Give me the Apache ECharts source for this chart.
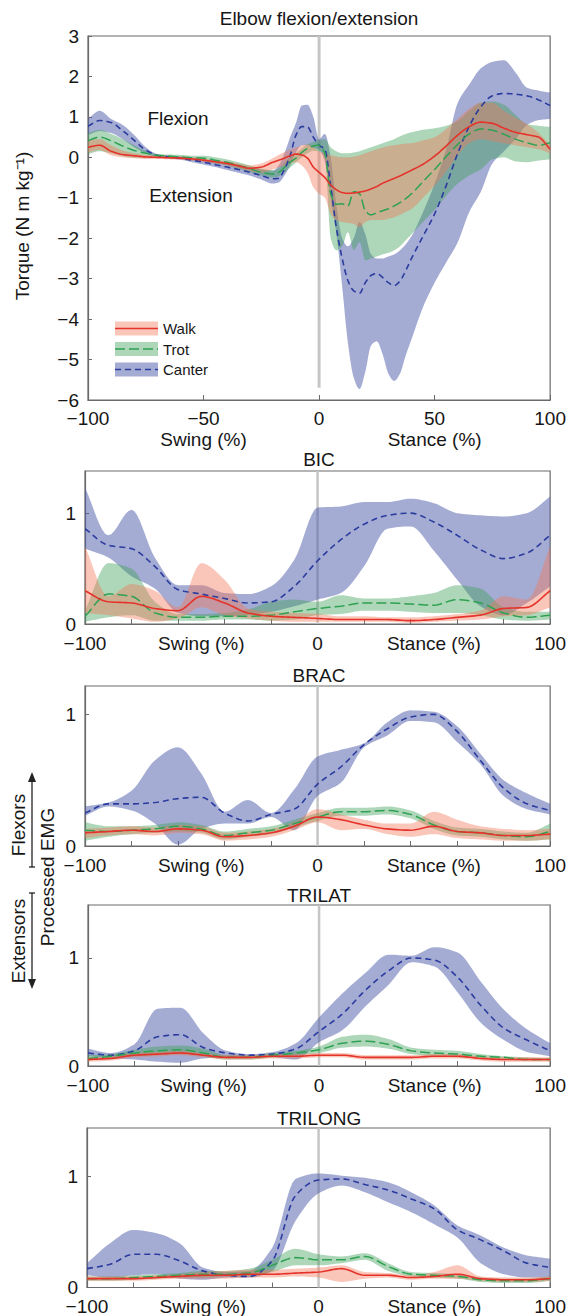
<!DOCTYPE html>
<html>
<head>
<meta charset="utf-8">
<title>Elbow torque and EMG</title>
<script src="https://cdn.jsdelivr.net/npm/echarts@6.0.0/dist/echarts.min.js"></script>
<style>
  html, body { margin: 0; padding: 0; background: #fff; }
  #chart { width: 569px; height: 1316px; }
</style>
</head>
<body>
<div id="chart"></div>
<script>
// ---- torque panel (N m kg-1), finer sampling around stance onset ----
const torqueX = [-100,-95,-90,-85,-80,-75,-70,-65,-60,-55,-50,-45,-40,-35,-30,-25,-20,
  -17.5,-15,-12.5,-10,-7.5,-5,-2.5,0,2.5,5,7.5,10,12.5,15,17.5,20,22.5,25,27.5,30,32.5,35,37.5,40,
  45,50,55,60,65,70,75,80,85,90,95,100]

const torqueWalk = [0.25,0.3,0.15,0.07,0.04,0.01,0,-0.01,-0.02,-0.04,-0.07,-0.11,-0.15,-0.21,-0.27,-0.24,-0.12,
  -0.07,-0.02,0.04,0.08,0.06,-0.02,-0.24,-0.37,-0.5,-0.68,-0.8,-0.87,-0.89,-0.88,-0.86,-0.83,-0.78,-0.72,-0.64,-0.58,-0.52,-0.46,-0.39,-0.32,
  -0.17,0.03,0.28,0.55,0.76,0.87,0.84,0.72,0.62,0.56,0.5,0.2]
const torqueWalkHi = [0.42,0.45,0.3,0.17,0.1,0.06,0.04,0.03,0.02,0,-0.03,-0.07,-0.1,-0.15,-0.2,-0.15,-0.02,
  0.06,0.13,0.2,0.24,0.3,0.32,0.25,0.15,0.1,0.05,0.02,0,0,0.02,0.05,0.1,0.15,0.2,0.24,0.28,0.3,0.32,0.34,0.35,
  0.42,0.5,0.7,0.95,1.2,1.35,1.35,1.15,0.98,0.82,0.6,0.3]
const torqueWalkLo = [0.12,0.18,0.05,0,-0.02,-0.04,-0.04,-0.05,-0.06,-0.08,-0.11,-0.15,-0.2,-0.27,-0.34,-0.38,-0.3,
  -0.25,-0.2,-0.15,-0.12,-0.2,-0.38,-0.74,-0.9,-1.0,-1.4,-1.55,-1.6,-1.62,-1.65,-1.73,-1.6,-1.55,-1.55,-1.55,-1.52,-1.48,-1.42,-1.35,-1.28,
  -1.0,-0.7,-0.35,0.05,0.35,0.45,0.4,0.35,0.3,0.25,0.2,0.1]

const torqueTrot = [0.41,0.5,0.41,0.28,0.17,0.1,0.05,0.03,0.01,-0.01,-0.02,-0.07,-0.12,-0.2,-0.28,-0.37,-0.41,
  -0.37,-0.25,-0.12,-0.02,0.12,0.22,0.28,0.3,0.1,-0.9,-1.16,-1.15,-1.2,-0.85,-0.9,-1.32,-1.42,-1.37,-1.32,-1.27,-1.2,-1.12,-1.02,-0.9,
  -0.6,-0.3,0.02,0.32,0.58,0.7,0.67,0.57,0.45,0.36,0.3,0.36]
const torqueTrotHi = [0.6,0.68,0.58,0.45,0.3,0.16,0.08,0.07,0.06,0.04,0.04,0,-0.05,-0.12,-0.2,-0.28,-0.32,
  -0.27,-0.13,0,0.1,0.22,0.32,0.38,0.42,0.45,0.25,0.15,0.1,0.1,0.12,0.15,0.2,0.25,0.3,0.35,0.4,0.45,0.52,0.58,0.62,
  0.68,0.72,0.78,0.9,1.15,1.35,1.38,1.3,1.05,0.82,0.78,0.75]
const torqueTrotLo = [0.08,0.15,0.1,0.03,-0.01,-0.01,-0.01,-0.02,-0.04,-0.07,-0.1,-0.15,-0.2,-0.28,-0.36,-0.45,-0.5,
  -0.47,-0.37,-0.25,-0.13,0,0.1,0.16,0.15,0,-2.0,-2.3,-2.2,-1.85,-2.3,-2.1,-2.55,-2.5,-2.45,-2.4,-2.36,-2.3,-2.2,-2.05,-1.9,
  -1.6,-1.3,-0.95,-0.65,-0.45,-0.3,-0.05,0,-0.1,-0.12,-0.08,-0.05]

const torqueCanter = [0.77,0.91,0.86,0.66,0.42,0.18,0.05,0.01,-0.02,-0.07,-0.12,-0.18,-0.24,-0.3,-0.37,-0.45,-0.53,
  -0.52,-0.3,0.05,0.55,0.76,0.75,0.5,0.3,0.2,-0.7,-1.75,-2.5,-3.05,-3.3,-3.36,-3.1,-2.92,-2.87,-2.97,-3.1,-3.17,-3.06,-2.8,-2.5,
  -1.95,-1.4,-0.7,0.1,0.77,1.25,1.52,1.58,1.56,1.52,1.42,1.28]
const torqueCanterHi = [0.95,1.15,0.95,0.8,0.55,0.25,0.08,0.04,0.02,-0.01,-0.05,-0.09,-0.13,-0.18,-0.24,-0.3,-0.33,
  -0.2,0.1,0.5,0.85,1.28,1.3,1.0,0.45,0.58,0,-1.2,-2.0,-2.2,-2.0,-1.6,-1.9,-2.4,-2.5,-2.5,-2.45,-2.4,-2.3,-2.15,-1.95,
  -1.35,-0.65,0.2,1.35,1.8,2.2,2.36,2.4,2.1,1.72,1.65,1.6]
const torqueCanterLo = [0.55,0.65,0.6,0.45,0.25,0.1,0,-0.03,-0.06,-0.12,-0.18,-0.24,-0.31,-0.38,-0.45,-0.55,-0.65,
  -0.62,-0.45,-0.2,0.12,0.3,0.3,0.23,0.19,-0.1,-1.0,-1.9,-3.2,-4.6,-5.45,-5.73,-5.3,-4.65,-4.55,-4.87,-5.35,-5.53,-5.35,-4.9,-4.5,
  -3.7,-3.1,-2.6,-2.1,-1.35,-0.85,-0.15,0.15,0.45,0.8,0.92,0.95]

// ---- processed EMG panels, every 10 % ----
const emgX = [-100,-90,-80,-70,-60,-50,-40,-30,-20,-10,0,10,20,30,40,50,60,70,80,90,100]

const bicWalk = [0.3,0.2,0.19,0.14,0.12,0.25,0.19,0.1,0.07,0.06,0.05,0.04,0.04,0.04,0.03,0.04,0.06,0.08,0.14,0.15,0.3]
const bicWalkHi = [0.7,0.25,0.36,0.3,0.15,0.55,0.4,0.14,0.11,0.1,0.09,0.07,0.07,0.06,0.06,0.07,0.09,0.12,0.25,0.22,0.7]
const bicWalkLo = [0.1,0.08,0.05,0.02,0.05,0.15,0.08,0.05,0.03,0.02,0.02,0.02,0.02,0.02,0.01,0.02,0.03,0.04,0.07,0.08,0.15]
const bicTrot = [0.07,0.27,0.25,0.1,0.06,0.06,0.07,0.07,0.08,0.11,0.14,0.16,0.19,0.19,0.18,0.17,0.22,0.19,0.1,0.06,0.08]
const bicTrotHi = [0.12,0.55,0.5,0.2,0.09,0.09,0.1,0.13,0.2,0.22,0.2,0.26,0.23,0.23,0.25,0.28,0.35,0.32,0.15,0.11,0.11]
const bicTrotLo = [0.02,0.06,0.08,0.03,0.03,0.03,0.04,0.04,0.03,0.04,0.08,0.09,0.12,0.12,0.11,0.1,0.1,0.08,0.04,0.03,0.04]
const bicCanter = [0.86,0.71,0.68,0.52,0.31,0.27,0.23,0.19,0.2,0.34,0.57,0.76,0.9,0.98,1.0,0.92,0.8,0.67,0.59,0.64,0.8]
const bicCanterHi = [1.23,0.8,1.03,0.6,0.35,0.35,0.28,0.27,0.34,0.58,1.05,1.06,1.1,1.1,1.13,1.09,1.0,0.98,0.97,1.0,1.15]
const bicCanterLo = [0.68,0.6,0.43,0.32,0.1,0.07,0.07,0.08,0.11,0.16,0.22,0.28,0.52,0.86,0.88,0.66,0.4,0.16,0.08,0.19,0.34]

const bracWalk = [0.1,0.11,0.12,0.11,0.13,0.12,0.07,0.08,0.1,0.15,0.22,0.2,0.16,0.13,0.12,0.15,0.11,0.1,0.08,0.08,0.09]
const bracWalkHi = [0.13,0.14,0.15,0.14,0.16,0.15,0.1,0.11,0.13,0.18,0.28,0.24,0.2,0.17,0.17,0.26,0.2,0.15,0.13,0.12,0.13]
const bracWalkLo = [0.06,0.08,0.09,0.08,0.1,0.09,0.04,0.05,0.07,0.12,0.18,0.12,0.13,0.09,0.07,0.09,0.06,0.05,0.04,0.04,0.05]
const bracTrot = [0.12,0.11,0.12,0.13,0.15,0.13,0.08,0.1,0.12,0.17,0.22,0.26,0.26,0.27,0.24,0.16,0.11,0.1,0.08,0.07,0.11]
const bracTrotHi = [0.18,0.15,0.15,0.16,0.18,0.16,0.11,0.13,0.15,0.2,0.25,0.29,0.29,0.3,0.27,0.19,0.14,0.13,0.11,0.1,0.17]
const bracTrotLo = [0.04,0.07,0.09,0.1,0.11,0.1,0.05,0.07,0.09,0.14,0.19,0.23,0.23,0.24,0.21,0.13,0.08,0.07,0.05,0.04,0.05]
const bracCanter = [0.25,0.32,0.32,0.33,0.36,0.37,0.25,0.19,0.24,0.28,0.47,0.6,0.77,0.89,0.98,1.0,0.87,0.65,0.44,0.32,0.27]
const bracCanterHi = [0.3,0.33,0.42,0.65,0.75,0.55,0.26,0.35,0.25,0.43,0.68,0.73,0.78,0.94,1.03,1.02,0.91,0.7,0.5,0.4,0.32]
const bracCanterLo = [0.23,0.3,0.27,0.17,0.01,0.13,0.17,0.17,0.22,0.12,0.38,0.48,0.75,0.84,0.95,0.94,0.79,0.62,0.38,0.28,0.24]

const trilatWalk = [0.06,0.07,0.1,0.11,0.12,0.1,0.08,0.08,0.09,0.09,0.1,0.1,0.08,0.08,0.08,0.09,0.09,0.07,0.06,0.06,0.06]
const trilatWalkHi = [0.08,0.09,0.12,0.13,0.14,0.12,0.1,0.1,0.11,0.11,0.12,0.12,0.1,0.1,0.1,0.11,0.11,0.09,0.08,0.08,0.08]
const trilatWalkLo = [0.04,0.05,0.08,0.09,0.1,0.08,0.06,0.06,0.07,0.07,0.08,0.08,0.06,0.06,0.06,0.07,0.07,0.05,0.04,0.04,0.04]
const trilatTrot = [0.07,0.09,0.12,0.14,0.15,0.12,0.08,0.08,0.1,0.12,0.15,0.21,0.23,0.2,0.14,0.12,0.11,0.09,0.08,0.06,0.06]
const trilatTrotHi = [0.1,0.11,0.15,0.18,0.19,0.16,0.1,0.1,0.12,0.14,0.18,0.27,0.29,0.25,0.17,0.15,0.14,0.11,0.09,0.08,0.07]
const trilatTrotLo = [0.05,0.07,0.09,0.1,0.11,0.09,0.06,0.06,0.08,0.1,0.12,0.17,0.18,0.16,0.11,0.09,0.08,0.07,0.06,0.05,0.05]
const trilatCanter = [0.12,0.1,0.14,0.27,0.29,0.17,0.12,0.1,0.11,0.16,0.32,0.48,0.7,0.88,1.0,0.98,0.82,0.56,0.35,0.24,0.14]
const trilatCanterHi = [0.16,0.12,0.2,0.53,0.54,0.3,0.14,0.11,0.13,0.21,0.45,0.67,0.86,1.03,1.02,1.1,1.05,0.78,0.52,0.34,0.21]
const trilatCanterLo = [0.09,0.07,0.06,0.04,0.03,0.07,0.08,0.09,0.08,0.06,0.22,0.33,0.55,0.75,0.96,0.92,0.68,0.4,0.24,0.13,0.09]

const trilongWalk = [0.08,0.08,0.08,0.09,0.1,0.11,0.11,0.12,0.12,0.13,0.14,0.17,0.11,0.11,0.09,0.1,0.12,0.08,0.07,0.07,0.08]
const trilongWalkHi = [0.1,0.1,0.1,0.11,0.12,0.14,0.15,0.16,0.16,0.17,0.18,0.2,0.14,0.13,0.11,0.14,0.2,0.1,0.09,0.09,0.1]
const trilongWalkLo = [0.06,0.06,0.06,0.07,0.08,0.08,0.08,0.09,0.09,0.1,0.09,0.05,0.08,0.09,0.07,0.08,0.08,0.06,0.05,0.05,0.06]
const trilongTrot = [0.08,0.08,0.09,0.1,0.11,0.12,0.12,0.13,0.2,0.27,0.25,0.25,0.28,0.19,0.12,0.11,0.1,0.07,0.06,0.06,0.08]
const trilongTrotHi = [0.1,0.1,0.11,0.12,0.13,0.15,0.15,0.17,0.25,0.35,0.3,0.28,0.31,0.22,0.14,0.13,0.12,0.09,0.08,0.08,0.1]
const trilongTrotLo = [0.06,0.06,0.07,0.08,0.09,0.09,0.1,0.1,0.14,0.2,0.2,0.22,0.25,0.15,0.1,0.09,0.08,0.05,0.04,0.04,0.06]
const trilongCanter = [0.17,0.21,0.3,0.3,0.24,0.15,0.11,0.1,0.24,0.83,0.97,0.98,0.93,0.88,0.8,0.71,0.52,0.43,0.33,0.22,0.18]
const trilongCanterHi = [0.22,0.4,0.52,0.49,0.4,0.18,0.14,0.15,0.36,0.98,1.03,1.01,0.99,0.95,0.86,0.74,0.56,0.47,0.36,0.29,0.26]
const trilongCanterLo = [0.11,0.09,0.11,0.12,0.08,0.07,0.09,0.09,0.15,0.6,0.85,0.92,0.86,0.77,0.68,0.57,0.45,0.22,0.12,0.09,0.09]

const gaitNames = ["Walk", "Trot", "Canter"]

const FONT = '"Liberation Sans", Arial, Helvetica, sans-serif'
const TEXT = "#161616"
const FRAME = "#6a6a6a"
const MINUS = "\u2212"

const gaits = {
    canter: { line: "#2b3c9e", band: "rgba(75,90,170,0.5)", dash: [6, 4], width: 1.6 },
    trot: { line: "#2ea152", band: "rgba(60,160,85,0.42)", dash: [10, 4], width: 1.5 },
    walk: { line: "#e5332a", band: "rgba(240,118,88,0.42)", dash: null, width: 1.6 },
}

const panels = [
    {
        title: "Elbow flexion/extension", titleY: 18, xs: torqueX,
        left: 88, right: 554, top: 36, bottom: 400, yMin: -6, yMax: 3, zeroEnd: -5.7, xStep: 50,
        walk: [torqueWalk, torqueWalkLo, torqueWalkHi],
        trot: [torqueTrot, torqueTrotLo, torqueTrotHi],
        canter: [torqueCanter, torqueCanterLo, torqueCanterHi],
    },
    {
        title: "BIC", titleY: 459, xs: emgX,
        left: 85, right: 557, top: 471, bottom: 624, yMin: 0, yMax: 1.38, zeroEnd: 0, xStep: 20,
        walk: [bicWalk, bicWalkLo, bicWalkHi],
        trot: [bicTrot, bicTrotLo, bicTrotHi],
        canter: [bicCanter, bicCanterLo, bicCanterHi],
    },
    {
        title: "BRAC", titleY: 675, xs: emgX,
        left: 85, right: 557, top: 686, bottom: 846, yMin: 0, yMax: 1.215, zeroEnd: 0, xStep: 20,
        walk: [bracWalk, bracWalkLo, bracWalkHi],
        trot: [bracTrot, bracTrotLo, bracTrotHi],
        canter: [bracCanter, bracCanterLo, bracCanterHi],
    },
    {
        title: "TRILAT", titleY: 895, xs: emgX,
        left: 88, right: 555, top: 905, bottom: 1066, yMin: 0, yMax: 1.49, zeroEnd: 0, xStep: 20,
        walk: [trilatWalk, trilatWalkLo, trilatWalkHi],
        trot: [trilatTrot, trilatTrotLo, trilatTrotHi],
        canter: [trilatCanter, trilatCanterLo, trilatCanterHi],
    },
    {
        title: "TRILONG", titleY: 1118, xs: emgX,
        left: 87, right: 555, top: 1128, bottom: 1290, yMin: 0, yMax: 1.44, zeroEnd: 0, xStep: 20,
        walk: [trilongWalk, trilongWalkLo, trilongWalkHi],
        trot: [trilongTrot, trilongTrotLo, trilongTrotHi],
        canter: [trilongCanter, trilongCanterLo, trilongCanterHi],
    },
]

function numFormat(v) {
    return String(v).replace("-", MINUS)
}

// monotone cubic (Fritsch-Carlson) through pixel points, x increasing
function smoothPoints(pts, steps) {
    const n = pts.length
    const h = []
    const d = []
    for (let k = 0; k < n - 1; k++) {
        h.push(pts[k + 1][0] - pts[k][0])
        d.push((pts[k + 1][1] - pts[k][1]) / h[k])
    }
    const m = new Array(n)
    m[0] = d[0]
    m[n - 1] = d[n - 2]
    for (let k = 1; k < n - 1; k++) {
        if (d[k - 1] * d[k] <= 0) m[k] = 0
        else m[k] = (3 * (h[k - 1] + h[k])) / ((2 * h[k] + h[k - 1]) / d[k - 1] + (h[k] + 2 * h[k - 1]) / d[k])
    }
    const out = []
    for (let k = 0; k < n - 1; k++) {
        for (let s = 0; s < steps; s++) {
            const t = s / steps
            const t2 = t * t
            const t3 = t2 * t
            const y = (2 * t3 - 3 * t2 + 1) * pts[k][1] + (t3 - 2 * t2 + t) * h[k] * m[k]
                + (-2 * t3 + 3 * t2) * pts[k + 1][1] + (t3 - t2) * h[k] * m[k + 1]
            out.push([pts[k][0] + t * h[k], y])
        }
    }
    out.push(pts[n - 1])
    return out
}

const grids = []
const xAxes = []
const yAxes = []
const series = []
const graphics = []

panels.forEach((p, i) => {
    const isTorque = i === 0
    grids.push({
        left: p.left, top: p.top,
        width: p.right - p.left, height: p.bottom - p.top,
        show: true, borderColor: FRAME, borderWidth: 1.2, backgroundColor: "transparent",
    })
    // axis that carries the ticks (and the numbers for the torque panel)
    xAxes.push({
        type: "value", gridIndex: i, min: -100, max: 100, interval: p.xStep,
        axisLine: { show: true, onZero: false, lineStyle: { color: FRAME, width: 1.2 } },
        axisTick: { show: true, inside: true, length: 5, lineStyle: { color: FRAME } },
        splitLine: { show: false },
        axisLabel: {
            show: isTorque, margin: 10, lineHeight: 16, fontSize: 19, fontFamily: FONT, color: TEXT,
            formatter: numFormat,
        },
    })
    // label-only axis: Swing / Stance names
    xAxes.push({
        type: "value", gridIndex: i, min: -100, max: 100, interval: 50, position: "bottom",
        axisLine: { show: false }, axisTick: { show: false }, splitLine: { show: false },
        axisLabel: {
            margin: isTorque ? 31 : 11, lineHeight: 16, fontSize: 19, fontFamily: FONT, color: TEXT,
            formatter: function (v) {
                if (v === -50) return "Swing (%)"
                if (v === 50) return "Stance (%)"
                return isTorque ? "" : numFormat(v)
            },
        },
    })
    yAxes.push({
        type: "value", gridIndex: i, min: p.yMin, max: p.yMax, interval: 1,
        axisLine: { show: true, onZero: false, lineStyle: { color: FRAME, width: 1.2 } },
        axisTick: { show: true, inside: true, length: 4, lineStyle: { color: FRAME } },
        splitLine: { show: false },
        axisLabel: {
            margin: 9, lineHeight: 15, fontSize: 19, fontFamily: FONT, color: TEXT,
            padding: [0, 0, 8, 0],
            showMaxLabel: isTorque, formatter: numFormat,
        },
    })

    const xIdx = 2 * i
    // stance-onset reference line
    series.push({
        type: "line", xAxisIndex: xIdx, yAxisIndex: i, symbol: "none", silent: true, z: 1,
        lineStyle: { color: "#c6c6c6", width: isTorque ? 3 : 2.5 },
        data: [[0, p.yMax], [0, p.zeroEnd]],
    })
    ;["canter", "trot", "walk"].forEach((g) => {
        const lo = p[g][1]
        const hi = p[g][2]
        series.push({
            name: g + "Band" + i, type: "custom", xAxisIndex: xIdx, yAxisIndex: i,
            silent: true, clip: true, z: 2,
            data: p.xs.map((x, j) => [x, lo[j], hi[j]]),
            encode: { x: 0, y: [1, 2] },
            renderItem: function (params, api) {
                if (params.dataIndex !== 0) return null
                const top = smoothPoints(p.xs.map((x, j) => api.coord([x, hi[j]])), 8)
                const bot = smoothPoints(p.xs.map((x, j) => api.coord([x, lo[j]])), 8)
                return {
                    type: "polygon",
                    shape: { points: top.concat(bot.reverse()) },
                    style: { fill: gaits[g].band },
                }
            },
        })
    })
    ;["canter", "trot", "walk"].forEach((g) => {
        const mean = p[g][0]
        series.push({
            name: g + i, type: "custom", xAxisIndex: xIdx, yAxisIndex: i,
            silent: true, clip: true, z: 3,
            data: p.xs.map((x, j) => [x, mean[j]]),
            encode: { x: 0, y: 1 },
            renderItem: function (params, api) {
                if (params.dataIndex !== 0) return null
                return {
                    type: "polyline",
                    shape: { points: smoothPoints(p.xs.map((x, j) => api.coord([x, mean[j]])), 8) },
                    style: { fill: null, stroke: gaits[g].line, lineWidth: gaits[g].width, lineDash: gaits[g].dash },
                }
            },
        })
    })

    graphics.push({
        type: "text", x: 319, y: p.titleY,
        style: { text: p.title, font: "19px " + FONT, fill: TEXT, align: "center", verticalAlign: "middle" },
    })
})

// torque annotations + legend
graphics.push(
    { type: "text", x: 178, y: 118, style: { text: "Flexion", font: "19px " + FONT, fill: TEXT, align: "center", verticalAlign: "middle" } },
    { type: "text", x: 191, y: 195, style: { text: "Extension", font: "19px " + FONT, fill: TEXT, align: "center", verticalAlign: "middle" } },
    {
        type: "text", x: 22, y: 226, rotation: Math.PI / 2,
        style: { text: "Torque (N m kg\u207B\u00B9)", font: "19px " + FONT, fill: TEXT, align: "center", verticalAlign: "middle" },
    },
)
const legendKeys = ["walk", "trot", "canter"]
legendKeys.forEach((g, k) => {
    const cy = 328.5 + k * 20.5
    graphics.push(
        { type: "rect", shape: { x: 115, y: cy - 7, width: 43, height: 14 }, style: { fill: gaits[g].band } },
        {
            type: "line", shape: { x1: 115, y1: cy, x2: 158, y2: cy },
            style: { stroke: gaits[g].line, lineWidth: 1.5, lineDash: gaits[g].dash },
        },
        { type: "text", x: 163, y: cy, style: { text: gaitNames[k], font: "15px " + FONT, fill: TEXT, verticalAlign: "middle" } },
    )
})

// EMG side labels with arrows
graphics.push(
    { type: "text", x: 18, y: 825, rotation: Math.PI / 2, style: { text: "Flexors", font: "19px " + FONT, fill: TEXT, align: "center", verticalAlign: "middle" } },
    { type: "text", x: 18, y: 941, rotation: Math.PI / 2, style: { text: "Extensors", font: "19px " + FONT, fill: TEXT, align: "center", verticalAlign: "middle" } },
    { type: "text", x: 47, y: 877, rotation: Math.PI / 2, style: { text: "Processed EMG", font: "19px " + FONT, fill: TEXT, align: "center", verticalAlign: "middle" } },
    { type: "line", shape: { x1: 32, y1: 867, x2: 32, y2: 780 }, style: { stroke: "#222", lineWidth: 1.3 } },
    { type: "line", shape: { x1: 29, y1: 867, x2: 35, y2: 867 }, style: { stroke: "#222", lineWidth: 1.3 } },
    { type: "polygon", shape: { points: [[32, 772], [28, 782], [36, 782]] }, style: { fill: "#222" } },
    { type: "line", shape: { x1: 32, y1: 893, x2: 32, y2: 980 }, style: { stroke: "#222", lineWidth: 1.3 } },
    { type: "line", shape: { x1: 29, y1: 893, x2: 35, y2: 893 }, style: { stroke: "#222", lineWidth: 1.3 } },
    { type: "polygon", shape: { points: [[32, 989], [28, 979], [36, 979]] }, style: { fill: "#222" } },
)

const myChart = echarts.init(document.getElementById("chart"), null, { renderer: "svg" })
myChart.setOption({
    animation: false,
    backgroundColor: "#ffffff",
    grid: grids,
    xAxis: xAxes,
    yAxis: yAxes,
    series: series,
    graphic: graphics,
})
window.addEventListener("resize", function () {
    myChart.resize()
})
</script>
</body>
</html>
